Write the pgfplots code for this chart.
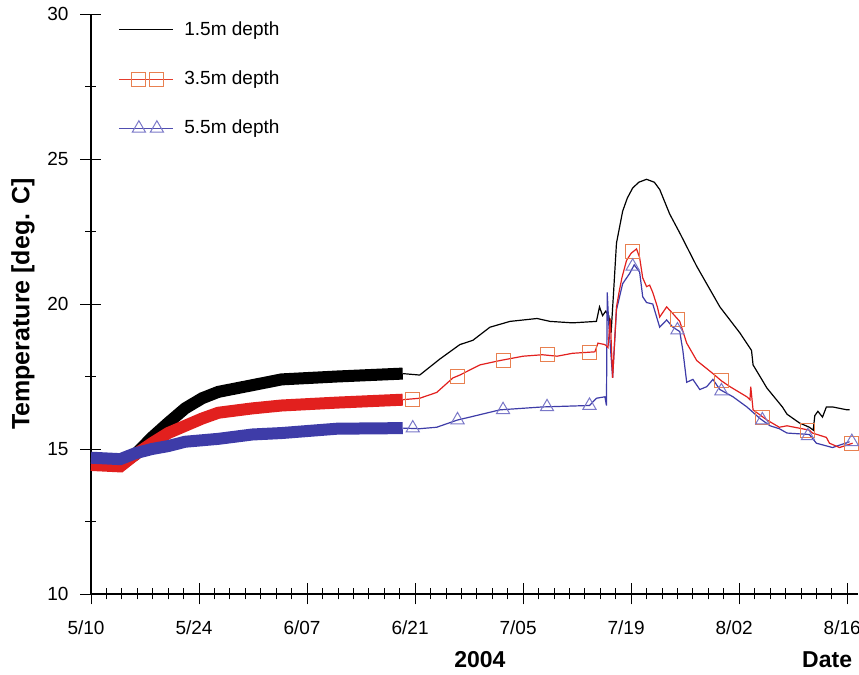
\documentclass[border=0pt]{standalone}
\usepackage{fontspec}
\setmainfont{Liberation Sans}
\usepackage{pgfplots}
\pgfplotsset{compat=1.18}

\definecolor{redline}{RGB}{226,32,30}
\definecolor{sqcol}{RGB}{232,128,80}
\definecolor{blueline}{RGB}{62,60,168}
\definecolor{tricol}{RGB}{122,120,200}

\pgfplotsset{
    lineonly/.style={legend image code/.code={\draw[##1] (0pt,0pt) -- (27pt,0pt);}},
    twomarks/.style={legend image code/.code={\draw[##1, mark indices={2,3}]
        plot coordinates {(0pt,0pt)(10pt,0pt)(19pt,0pt)(27pt,0pt)};}},
}

% days after 5/10, temperature in deg C
% noisy stretches (drawn as a thick band)
\pgfplotstableread{
d T
0 14.5
3.8 14.45
5.7 14.8
7.9 15.4
10.0 15.9
12.2 16.4
14.4 16.75
16.5 16.97
20.9 17.2
24.7 17.4
31.9 17.5
40.4 17.6
}\bkA
\pgfplotstableread{
d T
0 14.45
3.8 14.4
5.7 14.8
7.9 15.2
10.0 15.55
12.2 15.8
14.4 16.05
16.5 16.25
20.9 16.4
24.7 16.5
31.9 16.6
40.4 16.7
}\rdA
\pgfplotstableread{
d T
0 14.7
3.8 14.65
5.7 14.85
7.9 15.0
10.0 15.1
12.2 15.25
16.5 15.35
20.9 15.5
24.7 15.55
31.9 15.7
40.4 15.72
}\blA

% hourly-averaged stretches
\pgfplotstableread{
d T
40.4 17.6
42.6 17.55
45.2 18.1
47.8 18.6
49.5 18.75
51.7 19.2
54.3 19.4
57.8 19.5
59.5 19.4
62.4 19.35
65.5 19.4
65.9 19.9
66.3 19.6
66.7 19.75
67.1 19.6
67.4 19.0
67.7 20.3
68.1 22.1
68.9 23.2
69.5 23.65
70.2 24.0
71.0 24.2
72.0 24.3
73.0 24.2
73.7 23.95
75.0 23.1
76.3 22.45
78.5 21.3
81.5 19.9
84.1 19.0
85.6 18.4
85.8 17.9
87.6 17.1
89.6 16.45
90.2 16.2
91.8 15.9
93.1 15.75
93.6 15.65
93.8 16.15
94.2 16.3
94.8 16.1
95.3 16.45
96.1 16.45
98.0 16.35
98.3 16.35
}\bkB
\pgfplotstableread{
d T
40.4 16.7
42.6 16.75
44.8 16.95
46.9 17.45
47.8 17.55
50.4 17.9
53.0 18.05
56.0 18.2
58.5 18.25
60.4 18.2
62.4 18.3
65.3 18.35
65.7 18.65
66.6 18.6
67.0 18.5
67.3 19.5
67.6 17.45
68.1 19.9
68.5 20.5
68.8 20.9
69.4 21.5
70.0 21.75
70.7 21.9
71.1 21.6
71.5 20.9
72.0 20.6
72.4 20.65
72.8 20.4
73.4 19.9
73.7 19.55
74.6 19.9
75.3 19.7
76.3 19.4
77.2 18.65
78.5 18.05
80.6 17.6
81.7 17.35
82.8 17.15
85.0 16.8
85.4 16.7
85.5 17.15
85.8 16.35
87.6 16.0
89.2 15.75
90.2 15.8
93.1 15.65
93.5 15.55
95.3 15.4
95.7 15.2
97.0 15.05
98.7 15.2
}\rdB
\pgfplotstableread{
d T
40.4 15.72
42.6 15.7
44.8 15.75
47.5 16.0
49.1 16.1
53.0 16.35
58.5 16.45
64.6 16.5
65.5 16.75
66.6 16.8
66.8 16.5
66.9 20.4
67.1 19.3
67.6 17.45
68.1 19.8
68.9 20.7
69.8 21.05
70.4 21.35
71.1 21.1
71.5 20.25
72.0 20.05
72.8 20.0
73.7 19.2
74.6 19.45
75.4 19.2
76.3 19.05
76.7 18.4
77.2 17.3
78.0 17.4
78.9 17.05
79.8 17.15
80.6 17.4
81.5 17.05
83.2 16.8
85.0 16.45
86.7 16.05
88.0 15.8
89.2 15.7
90.2 15.55
93.1 15.5
94.0 15.2
96.1 15.05
98.3 15.25
}\blB

% marker positions
\pgfplotstableread{
d T
41.7 16.72
47.5 17.5
53.4 18.05
59.1 18.25
64.6 18.33
70.2 21.8
76.0 19.45
81.7 17.35
87.0 16.1
92.9 15.65
98.6 15.2
}\sqm
\pgfplotstableread{
d T
41.7 15.72
47.5 16.0
53.4 16.35
59.1 16.45
64.6 16.5
70.2 21.3
76.0 19.1
81.7 17.0
87.0 16.0
92.9 15.45
98.6 15.25
}\trm

\begin{document}
\begin{tikzpicture}
\useasboundingbox (-45.5pt,-40.5pt) rectangle (384pt,297pt);
\begin{axis}[
    at={(0pt,0pt)}, anchor=south west,
    scale only axis, width=383.5pt, height=290pt,
    xmin=0, xmax=99.4, ymin=10, ymax=30,
    axis x line=bottom, axis y line=left,
    axis line style={-, line width=0.6pt},
    clip=false,
    xtick={0,14,...,98},
    xticklabels={5/10,5/24,6/07,6/21,7/05,7/19,8/02,8/16},
    minor x tick num=6,
    ytick={10,15,...,30},
    minor y tick num=1,
    tick align=center,
    major tick length=10.5pt, minor tick length=5.5pt,
    tick style={black, line width=0.4pt},
    xticklabel style={font=\fontsize{9.5}{11}\selectfont, xshift=-2.5pt, yshift=-4.5pt},
    yticklabel style={font=\fontsize{9.5}{11}\selectfont, anchor=east, xshift=-2.5pt},
    /pgf/number format/assume math mode=true,
    ylabel={Temperature [deg. C]},
    ylabel style={at={(axis description cs:-0.0887,0.5)}, anchor=center,
        font=\fontsize{12.5}{14}\selectfont\bfseries},
    legend style={at={(rel axis cs:0,1)}, anchor=north west, xshift=13.5pt, yshift=-1.5pt,
        draw=none, fill=none, inner sep=0pt, row sep=12.25pt,
        font=\fontsize{9.5}{11}\selectfont,
        /tikz/every odd column/.append style={column sep=3.5pt}},
    legend cell align=left,
]
\addlegendimage{black, line width=0.5pt, lineonly}
\addlegendentry{1.5m depth}
\addlegendimage{redline!70!sqcol, line width=0.5pt, mark=square, mark size=3.5pt,
    mark options={sqcol, solid, line width=0.5pt}, twomarks}
\addlegendentry{3.5m depth}
\addlegendimage{blueline!70!tricol, line width=0.5pt, mark=triangle, mark size=3.8pt,
    mark options={tricol, solid, line width=0.5pt}, twomarks}
\addlegendentry{5.5m depth}

\addplot[forget plot, black, line width=6pt] table[x=d, y=T] {\bkA};
\addplot[forget plot, redline, line width=6pt] table[x=d, y=T] {\rdA};
\addplot[forget plot, blueline, line width=6pt] table[x=d, y=T] {\blA};

\addplot[forget plot, black, line width=0.6pt] table[x=d, y=T] {\bkB};
\addplot[forget plot, blueline, line width=0.6pt] table[x=d, y=T] {\blB};
\addplot[forget plot, redline, line width=0.6pt] table[x=d, y=T] {\rdB};

\addplot[forget plot, only marks, mark=square, mark size=3.5pt,
    mark options={sqcol, line width=0.5pt}] table[x=d, y=T] {\sqm};
\addplot[forget plot, only marks, mark=triangle, mark size=3.8pt,
    mark options={tricol, line width=0.5pt}] table[x=d, y=T] {\trm};

\node[font=\fontsize{11.5}{13}\selectfont\bfseries] at (axis cs:50.4,10) [yshift=-33pt] {2004};
\node[font=\fontsize{11.5}{13}\selectfont\bfseries] at (axis cs:95.4,10) [yshift=-33pt] {Date};
\end{axis}
\end{tikzpicture}
\end{document}
